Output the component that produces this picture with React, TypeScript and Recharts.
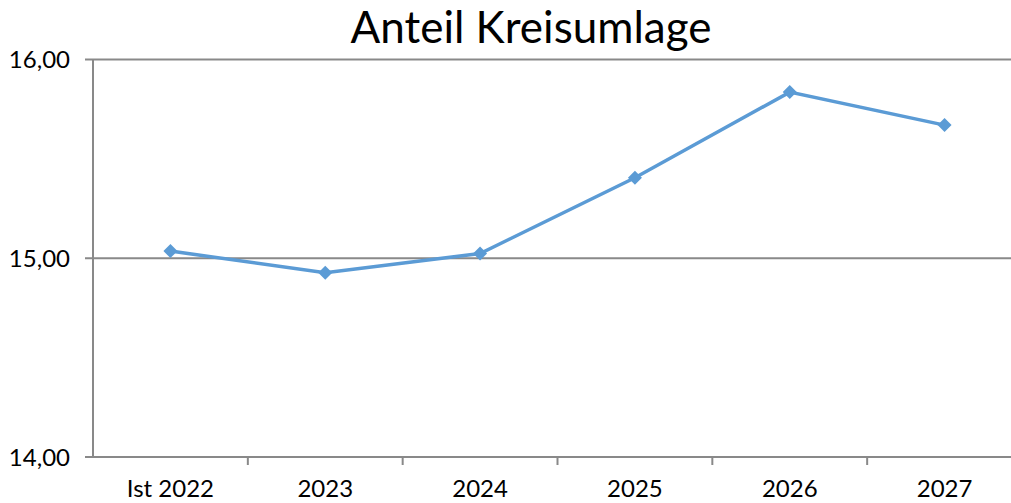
import { LineChart, Line, XAxis, YAxis, CartesianGrid } from 'recharts'

const categories = ['Ist 2022', '2023', '2024', '2025', '2026', '2027']
const anteil = [15.036, 14.927, 15.024, 15.405, 15.836, 15.67]
const yTicks = [14, 15, 16]

const data = categories.map((c, i) => ({ name: c, value: anteil[i] }))

const CHART_W = 1030
const CHART_H = 520
const MARGIN = { top: 59.5, right: 8, bottom: 23, left: 0 }
const Y_W = 93
const PLOT_W = CHART_W - MARGIN.left - MARGIN.right - Y_W
const BAND = PLOT_W / categories.length

const FONT = 'Lato, "Open Sans", sans-serif'
const GRID = '#898989'
const BLUE = '#5B9BD5'

// category ticks: label in the middle, tick mark on the left boundary (Excel style)
function XTick(props: any) {
  const { x, y, payload, index } = props
  return (
    <g>
      {index > 0 && (
        <line x1={x - BAND / 2} x2={x - BAND / 2} y1={y - 8} y2={y} stroke={GRID} strokeWidth={2} />
      )}
      <text x={x} y={y + 32} textAnchor="middle" fill="#000" fontSize={24} fontFamily={FONT}>
        {payload.value}
      </text>
    </g>
  )
}

function Diamond(props: any) {
  const { cx, cy, index } = props
  const r = 7
  return (
    <polygon
      key={index}
      points={`${cx},${cy - r} ${cx + r},${cy} ${cx},${cy + r} ${cx - r},${cy}`}
      fill={BLUE}
    />
  )
}

export default function App() {
  return (
    <div style={{ position: 'absolute', left: 0, top: 0, width: 1011, height: 503, overflow: 'hidden', background: '#fff' }}>
      <div
        style={{
          position: 'absolute',
          left: 0,
          top: 0,
          width: 1062,
          textAlign: 'center',
          fontFamily: FONT,
          fontSize: 44,
          lineHeight: '52px',
          color: '#000',
        }}
      >
        Anteil Kreisumlage
      </div>
      <LineChart width={CHART_W} height={CHART_H} data={data} margin={MARGIN}>
        <CartesianGrid vertical={false} stroke={GRID} strokeWidth={2} />
        <XAxis
          dataKey="name"
          scale="band"
          stroke={GRID}
          strokeWidth={2}
          tickLine={false}
          tick={<XTick />}
          height={40}
          interval={0}
        />
        <YAxis
          domain={[14, 16]}
          ticks={yTicks}
          width={Y_W}
          stroke={GRID}
          strokeWidth={2}
          tickSize={8}
          tickMargin={15}
          tick={{ fill: '#000', fontSize: 24, fontFamily: FONT }}
          tickFormatter={(v: number) => v.toFixed(2).replace('.', ',')}
        />
        <Line
          type="linear"
          dataKey="value"
          stroke={BLUE}
          strokeWidth={3.5}
          dot={<Diamond />}
          activeDot={false}
          isAnimationActive={false}
        />
      </LineChart>
    </div>
  )
}
